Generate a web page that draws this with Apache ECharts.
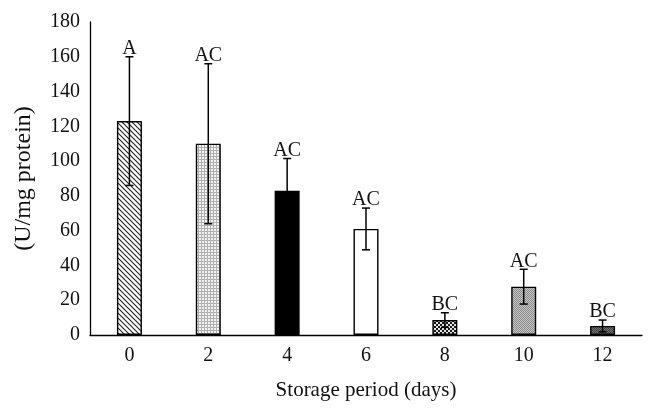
<!DOCTYPE html>
<html>
<head>
<meta charset="utf-8">
<script src="https://cdn.jsdelivr.net/npm/echarts@6/dist/echarts.min.js"></script>
<style>html,body{margin:0;padding:0;background:#fff}#c{width:655px;height:411px}</style>
</head>
<body>
<div id="c"></div>
<script>
var categories = ['0', '2', '4', '6', '8', '10', '12'];
var means = [123, 110, 83, 61, 8.6, 27.8, 5.2];
var errors = [37, 46, 18.5, 12, 4.2, 10, 3.4];
var letters = ['A', 'AC', 'AC', 'AC', 'BC', 'AC', 'BC'];
var yTicks = [0, 20, 40, 60, 80, 100, 120, 140, 160, 180];

function makePattern(kind) {
  var c = document.createElement('canvas');
  var ctx;
  if (kind === 'hatch') {
    c.width = 5; c.height = 5; ctx = c.getContext('2d');
    ctx.fillStyle = '#fff'; ctx.fillRect(0, 0, 5, 5);
    ctx.strokeStyle = '#222'; ctx.lineWidth = 1.1;
    ctx.beginPath();
    ctx.moveTo(-1, -1); ctx.lineTo(6, 6);
    ctx.moveTo(-1, 4); ctx.lineTo(1, 6);
    ctx.moveTo(4, -1); ctx.lineTo(6, 1);
    ctx.stroke();
    return c;
  }
  if (kind === 'grid') {
    c.width = 3; c.height = 3; ctx = c.getContext('2d');
    ctx.fillStyle = '#f2f2f2'; ctx.fillRect(0, 0, 3, 3);
    ctx.fillStyle = '#b0b0b0'; ctx.fillRect(0, 0, 3, 1); ctx.fillRect(0, 0, 1, 3);
    return c;
  }
  if (kind === 'checker') {
    c.width = 4; c.height = 4; ctx = c.getContext('2d');
    ctx.fillStyle = '#e4e4e4'; ctx.fillRect(0, 0, 4, 4);
    ctx.fillStyle = '#1a1a1a'; ctx.fillRect(0, 0, 2, 2); ctx.fillRect(2, 2, 2, 2);
    return c;
  }
  if (kind === 'dots') {
    c.width = 2; c.height = 2; ctx = c.getContext('2d');
    ctx.fillStyle = '#c8c8c8'; ctx.fillRect(0, 0, 2, 2);
    ctx.fillStyle = '#888'; ctx.fillRect(0, 0, 1, 1); ctx.fillRect(1, 1, 1, 1);
    return c;
  }
  if (kind === 'dark') {
    c.width = 2; c.height = 2; ctx = c.getContext('2d');
    ctx.fillStyle = '#707070'; ctx.fillRect(0, 0, 2, 2);
    ctx.fillStyle = '#444'; ctx.fillRect(0, 0, 1, 1); ctx.fillRect(1, 1, 1, 1);
    return c;
  }
}
var fills = [
  {image: makePattern('hatch'), repeat: 'repeat'},
  {image: makePattern('grid'), repeat: 'repeat'},
  '#000',
  '#fff',
  {image: makePattern('checker'), repeat: 'repeat'},
  {image: makePattern('dots'), repeat: 'repeat'},
  {image: makePattern('dark'), repeat: 'repeat'}
];

var font = '"Liberation Serif", "DejaVu Serif", serif';
var chart = echarts.init(document.getElementById('c'), null, {renderer: 'canvas'});

var barData = means.map(function (v, i) {
  return {value: v, itemStyle: {color: fills[i]}};
});
var errData = means.map(function (v, i) { return [i, v, errors[i], letters[i]]; });

chart.setOption({
  animation: false,
  backgroundColor: '#fff',
  grid: {left: 90, right: 13, top: 22, bottom: 76, containLabel: false},
  xAxis: {
    type: 'category',
    data: categories,
    name: 'Storage period (days)',
    nameLocation: 'middle',
    nameGap: 45,
    nameTextStyle: {fontFamily: font, fontSize: 21, color: '#111'},
    axisLine: {lineStyle: {color: '#000', width: 1.3}},
    axisTick: {show: false},
    axisLabel: {fontFamily: font, fontSize: 20, color: '#111', margin: 11}
  },
  yAxis: {
    type: 'value',
    min: 0, max: 180, interval: 20,
    name: '(U/mg protein)',
    nameLocation: 'middle',
    nameGap: 54,
    nameTextStyle: {fontFamily: font, fontSize: 24, color: '#111'},
    axisLine: {show: true, lineStyle: {color: '#000', width: 1.3}},
    axisTick: {show: false},
    splitLine: {show: false},
    axisLabel: {fontFamily: font, fontSize: 20, color: '#111', margin: 10,
      formatter: function (v) { return yTicks.indexOf(v) >= 0 ? String(v) : ''; }}
  },
  series: [
    {
      type: 'bar',
      data: barData,
      barWidth: 25,
      itemStyle: {borderColor: '#000', borderWidth: 1.4}
    },
    {
      type: 'custom',
      data: errData,
      z: 10,
      renderItem: function (params, api) {
        var i = api.value(0), m = api.value(1), e = api.value(2);
        var top = api.coord([i, m + e]);
        var bot = api.coord([i, m - e]);
        var cap = 4;
        var st = {stroke: '#000', lineWidth: 1.5};
        return {
          type: 'group',
          children: [
            {type: 'line', shape: {x1: top[0], y1: top[1], x2: bot[0], y2: bot[1]}, style: st},
            {type: 'line', shape: {x1: top[0] - cap, y1: top[1], x2: top[0] + cap, y2: top[1]}, style: st},
            {type: 'line', shape: {x1: bot[0] - cap, y1: bot[1], x2: bot[0] + cap, y2: bot[1]}, style: st},
            {type: 'text', style: {text: letters[params.dataIndex], x: top[0], y: top[1] + 2,
              textAlign: 'center', textVerticalAlign: 'bottom',
              font: '20px ' + font, fill: '#111'}}
          ]
        };
      }
    }
  ]
});
</script>
</body>
</html>
